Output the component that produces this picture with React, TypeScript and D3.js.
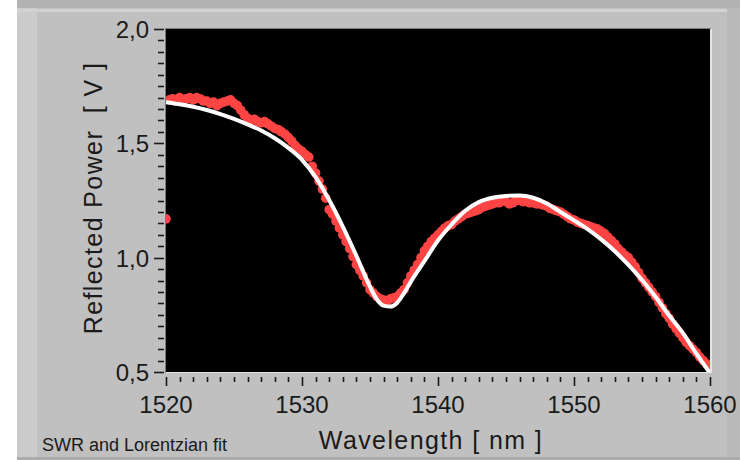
import * as d3 from "d3";

// measured points (wavelength nm, reflected power V)
const dataWavelength = [
  1520.0, 1520.25, 1520.5, 1520.75, 1521.0, 1521.25, 1521.5, 1521.75, 1522.0, 1522.25, 1522.5, 1522.75,
  1523.0, 1523.25, 1523.5, 1523.75, 1524.0, 1524.25, 1524.5, 1524.75, 1525.0, 1525.25, 1525.5, 1525.75,
  1526.0, 1526.25, 1526.5, 1526.75, 1527.0, 1527.25, 1527.5, 1527.75, 1528.0, 1528.25, 1528.5, 1528.75,
  1529.0, 1529.25, 1529.5, 1529.75, 1530.0, 1530.25, 1530.5, 1530.75, 1531.0, 1531.25, 1531.5, 1531.75,
  1532.0, 1532.25, 1532.5, 1532.75, 1533.0, 1533.25, 1533.5, 1533.75, 1534.0, 1534.25, 1534.5, 1534.75,
  1535.0, 1535.25, 1535.5, 1535.75, 1536.0, 1536.25, 1536.5, 1536.75, 1537.0, 1537.25, 1537.5, 1537.75,
  1538.0, 1538.25, 1538.5, 1538.75, 1539.0, 1539.25, 1539.5, 1539.75, 1540.0, 1540.25, 1540.5, 1540.75,
  1541.0, 1541.25, 1541.5, 1541.75, 1542.0, 1542.25, 1542.5, 1542.75, 1543.0, 1543.25, 1543.5, 1543.75,
  1544.0, 1544.25, 1544.5, 1544.75, 1545.0, 1545.25, 1545.5, 1545.75, 1546.0, 1546.25, 1546.5, 1546.75,
  1547.0, 1547.25, 1547.5, 1547.75, 1548.0, 1548.25, 1548.5, 1548.75, 1549.0, 1549.25, 1549.5, 1549.75,
  1550.0, 1550.25, 1550.5, 1550.75, 1551.0, 1551.25, 1551.5, 1551.75, 1552.0, 1552.25, 1552.5, 1552.75,
  1553.0, 1553.25, 1553.5, 1553.75, 1554.0, 1554.25, 1554.5, 1554.75, 1555.0, 1555.25, 1555.5, 1555.75,
  1556.0, 1556.25, 1556.5, 1556.75, 1557.0, 1557.25, 1557.5, 1557.75, 1558.0, 1558.25, 1558.5, 1558.75,
  1559.0, 1559.25, 1559.5, 1559.75, 1560.0,
];
const dataPower = [
  1.17, 1.69, 1.695, 1.685, 1.70, 1.69, 1.695, 1.70, 1.69, 1.70, 1.695, 1.685,
  1.685, 1.675, 1.68, 1.665, 1.675, 1.68, 1.685, 1.69, 1.675, 1.665, 1.645, 1.625,
  1.61, 1.60, 1.605, 1.595, 1.59, 1.595, 1.585, 1.575, 1.565, 1.56, 1.55, 1.54,
  1.525, 1.51, 1.49, 1.475, 1.465, 1.45, 1.44, 1.40, 1.37, 1.335, 1.30, 1.26,
  1.21, 1.19, 1.16, 1.13, 1.10, 1.07, 1.04, 1.005, 0.97, 0.945, 0.92, 0.89,
  0.86, 0.845, 0.83, 0.82, 0.815, 0.81, 0.82, 0.825, 0.83, 0.845, 0.86, 0.89,
  0.92, 0.945, 0.97, 1.00, 1.03, 1.05, 1.07, 1.085, 1.10, 1.115, 1.13, 1.14,
  1.145, 1.16, 1.17, 1.18, 1.19, 1.195, 1.20, 1.205, 1.21, 1.22, 1.225, 1.23,
  1.235, 1.24, 1.24, 1.25, 1.245, 1.235, 1.24, 1.25, 1.25, 1.245, 1.245, 1.24,
  1.24, 1.235, 1.235, 1.23, 1.225, 1.215, 1.21, 1.205, 1.20, 1.19, 1.18, 1.17,
  1.165, 1.155, 1.15, 1.145, 1.14, 1.135, 1.13, 1.125, 1.115, 1.105, 1.09, 1.075,
  1.06, 1.04, 1.025, 1.01, 1.00, 0.98, 0.96, 0.935, 0.91, 0.89, 0.87, 0.85,
  0.83, 0.805, 0.78, 0.755, 0.735, 0.71, 0.69, 0.67, 0.65, 0.63, 0.615, 0.60,
  0.585, 0.565, 0.55, 0.535, 0.52,
];

// lorentzian fit curve
const fitWavelength = [
  1520, 1521, 1522, 1523, 1524, 1525, 1526, 1527, 1528, 1529, 1530, 1531, 1532, 1533, 1534,
  1535, 1535.5, 1536, 1536.5, 1537, 1537.5, 1538, 1539, 1540, 1541, 1542, 1543, 1544, 1545,
  1546, 1547, 1548, 1549, 1550, 1551, 1552, 1553, 1554, 1555, 1556, 1557, 1558, 1559, 1560,
];
const fitPower = [
  1.68, 1.671, 1.66, 1.646, 1.628, 1.607, 1.583, 1.556, 1.522, 1.48, 1.428, 1.352, 1.252, 1.136, 1.008,
  0.873, 0.818, 0.79, 0.786, 0.803, 0.845, 0.895, 0.985, 1.075, 1.145, 1.205, 1.243, 1.262, 1.27,
  1.272, 1.262, 1.237, 1.2, 1.163, 1.125, 1.08, 1.028, 0.968, 0.902, 0.828, 0.747, 0.671, 0.58, 0.495,
];

const xTickLabels = [1520, 1530, 1540, 1550, 1560];
const yTickLabels = [0.5, 1.0, 1.5, 2.0];

const W = 740, H = 460;
const left = 166, right = 710, top = 29, bottom = 372;
const font = "'Liberation Sans', Arial, sans-serif";

export default function App() {
  const x = d3.scaleLinear().domain([1520, 1560]).range([left, right]);
  const y = d3.scaleLinear().domain([0.5, 2.0]).range([bottom, top]);

  const line = d3.line<number>()
    .x((d) => x(d))
    .y((_, i) => y(fitPower[i]))
    .curve(d3.curveMonotoneX);

  const fmt = (v: number) => d3.format(".1f")(v).replace(".", ",");
  const xMinor = x.ticks(40);
  const yMinor = y.ticks(30);

  return (
    <svg width={W} height={H} style={{ position: "absolute", left: 0, top: 0 }}>
      {/* window frame */}
      <rect x={0} y={0} width={W} height={H} fill="#ffffff" />
      <rect x={17} y={0} width={W - 17} height={8} fill="#b3b3b3" />
      <rect x={17} y={8} width={W - 17} height={H - 8} fill="#c0c0c0" />
      <rect x={17} y={8} width={20} height={H - 8} fill="#cbcbcb" />
      <rect x={17} y={9} width={W - 17} height={3} fill="#d2d2d2" />
      <rect x={727} y={8} width={13} height={H - 8} fill="#b9b9b9" />
      <rect x={17} y={457} width={W - 17} height={3} fill="#ababab" />

      {/* plot area */}
      <rect x={left - 1} y={top - 1} width={right - left + 2} height={bottom - top + 2} fill="#7a7a7a" />
      <rect x={left} y={top} width={right - left + 2} height={bottom - top + 1} fill="#e4e4e4" />
      <rect x={left} y={top} width={right - left} height={bottom - top} fill="#000000" />

      <defs>
        <clipPath id="plotClip">
          <rect x={left} y={top} width={right - left} height={bottom - top} />
        </clipPath>
      </defs>

      <g clipPath="url(#plotClip)">
        {dataWavelength.map((w, i) => (
          <circle key={i} cx={x(w)} cy={y(dataPower[i])} r={4.8} fill="#ff4444" />
        ))}
        <path d={line(fitWavelength) ?? ""} fill="none" stroke="#ffffff" strokeWidth={4} />
      </g>

      {/* y axis ticks */}
      {yMinor.map((t) => {
        const major = Math.abs(t * 2 - Math.round(t * 2)) < 1e-6;
        return (
          <line key={"y" + t} x1={major ? 154 : 158} x2={164} y1={Math.round(y(t)) + 0.5} y2={Math.round(y(t)) + 0.5}
            stroke="#1a1a1a" strokeWidth={1.6} />
        );
      })}
      {yTickLabels.map((t) => (
        <text key={"yl" + t} x={149} y={y(t) + 9} textAnchor="end" fontFamily={font} fontSize={24} fill="#1a1a1a">
          {fmt(t)}
        </text>
      ))}

      {/* x axis ticks */}
      {xMinor.map((t) => {
        const major = t % 10 === 0;
        return (
          <line key={"x" + t} x1={Math.round(x(t)) + 0.5} x2={Math.round(x(t)) + 0.5} y1={377} y2={major ? 386 : 382}
            stroke="#1a1a1a" strokeWidth={1.6} />
        );
      })}
      {xTickLabels.map((t) => (
        <text key={"xl" + t} x={x(t)} y={413} textAnchor="middle" fontFamily={font} fontSize={24} fill="#1a1a1a">
          {t}
        </text>
      ))}

      {/* axis titles */}
      <text x={431} y={449} textAnchor="middle" fontFamily={font} fontSize={25} letterSpacing={1.4} fill="#1a1a1a">
        Wavelength [ nm ]
      </text>
      <text transform="translate(102,198) rotate(-90)" textAnchor="middle" fontFamily={font} fontSize={25}
        letterSpacing={1.4} fill="#1a1a1a" style={{ whiteSpace: "pre" }}>
        {"Reflected Power  [ V ]"}
      </text>
      <text x={42} y={451} fontFamily={font} fontSize={18} fill="#1a1a1a">
        SWR and Lorentzian fit
      </text>
    </svg>
  );
}
